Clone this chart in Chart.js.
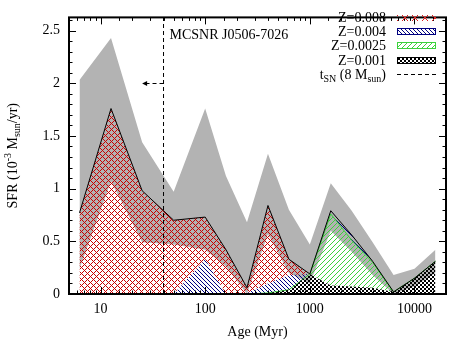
<!DOCTYPE html>
<html><head><meta charset="utf-8">
<script src="https://cdn.jsdelivr.net/npm/chart.js@4.4.1/dist/chart.umd.min.js"></script>
<style>html,body{margin:0;padding:0;background:#fff}canvas{display:block}</style>
</head><body>
<canvas id="c" width="453" height="340"></canvas>
<script>
// ---- data ----
const ageMyr    = [6.3, 12.6, 25, 50, 100, 158, 251, 398, 631, 1000, 1585, 2512, 3981, 6310, 10000, 15849];
const sfrZ0001  = [0, 0, 0, 0, 0, 0, 0, 0.01, 0.04, 0.19, 0.08, 0.07, 0.06, 0.02, 0.15, 0.31];
const sfrZ00025 = [0, 0, 0, 0, 0, 0, 0, 0, 0, 0, 0.68, 0.44, 0.24, 0, 0, 0];
const sfrZ0004  = [0, 0, 0, 0, 0.33, 0, 0.01, 0.09, 0.14, 0, 0.03, 0.05, 0.01, 0, 0, 0];
const sfrZ0008  = [0.77, 1.76, 0.98, 0.70, 0.40, 0.42, 0.05, 0.74, 0.15, 0, 0, 0, 0, 0, 0, 0];
const sfrUpper  = [2.03, 2.43, 1.44, 0.97, 1.76, 1.12, 0.68, 1.33, 0.80, 0.47, 1.05, 0.79, 0.49, 0.18, 0.24, 0.42];
const sfrLower  = [0.24, 1.07, 0.49, 0.47, 0.42, 0.26, 0.0, 0.57, 0.20, 0.10, 0.60, 0.40, 0.18, 0.0, 0.07, 0.20];
const tSNMyr = 40;
const arrowFromMyr = 40, arrowToMyr = 25, arrowSFR = 2;
const xMajorTicks = [10, 100, 1000, 10000];
const legendLabels = ['Z=0.008', 'Z=0.004', 'Z=0.0025', 'Z=0.001'];
const remnantName = 'MCSNR J0506-7026';

// ---- cumulative stack built from the arrays ----
const cum1 = sfrZ0001.map(v => v);
const cum2 = cum1.map((v, i) => v + sfrZ00025[i]);
const cum3 = cum2.map((v, i) => v + sfrZ0004[i]);
const cum4 = cum3.map((v, i) => v + sfrZ0008[i]);

const canvas = document.getElementById('c');
const mctx = canvas.getContext('2d');
function makePattern(w, h, fn, color) {
  const c = document.createElement('canvas'); c.width = w; c.height = h;
  const g = c.getContext('2d'); g.fillStyle = color;
  for (let y = 0; y < h; y++) for (let x = 0; x < w; x++) if (fn(x, y)) g.fillRect(x, y, 1, 1);
  return mctx.createPattern(c, 'repeat');
}
const RED = '#c80000', BLUE = '#000080', GREEN = '#3cd23c', GRAY = '#b3b3b3';
const patRed   = makePattern(6, 6, (x, y) => x === y || (x + y) % 6 === 0, RED);
const patRedLg = makePattern(10, 7, (x, y) => x >= 2 && x <= 7 && y >= 1 && y <= 6 && ((x - 2) === (y - 1) || (x - 2) + (y - 1) === 5), '#e02020');
const patBlue  = makePattern(4, 4, (x, y) => x === y, BLUE);
const patGreen = makePattern(5, 5, (x, y) => x + y === 4, GREEN);
const patBlack = makePattern(4, 4, (x, y) => (((x >> 1) + (y >> 1)) % 2) === 0, '#000');

const isPow10 = v => Math.abs(Math.log10(v) - Math.round(Math.log10(v))) < 1e-6;
const isHalf = v => Math.abs(v * 2 - Math.round(v * 2)) < 1e-6;
const FONT = 'Liberation Serif';

function richWidth(ctx, parts) {
  let w = 0;
  for (const p of parts) { ctx.font = p.s + 'px "' + FONT + '"'; w += ctx.measureText(p.t).width; }
  return w;
}
function drawRich(ctx, parts, x, y) {
  let cx = x;
  for (const p of parts) {
    ctx.font = p.s + 'px "' + FONT + '"';
    ctx.fillText(p.t, cx, y + (p.dy || 0));
    cx += ctx.measureText(p.t).width;
  }
}

const decorPlugin = {
  id: 'decor',
  afterDraw(chart) {
    const ctx = chart.ctx, a = chart.chartArea, xs = chart.scales.x, ys = chart.scales.y;
    ctx.save();
    // arrow (dashed, head at arrowToMyr)
    const ax0 = xs.getPixelForValue(arrowFromMyr), ax1 = xs.getPixelForValue(arrowToMyr);
    const ay = Math.round(ys.getPixelForValue(arrowSFR)) + 0.5;
    ctx.strokeStyle = '#000'; ctx.lineWidth = 1; ctx.setLineDash([4, 3]);
    ctx.beginPath(); ctx.moveTo(ax0, ay); ctx.lineTo(ax1 + 4, ay); ctx.stroke();
    ctx.setLineDash([]);
    ctx.fillStyle = '#000';
    ctx.beginPath(); ctx.moveTo(ax1, ay); ctx.lineTo(ax1 + 5, ay - 2.5); ctx.lineTo(ax1 + 5, ay + 2.5); ctx.closePath(); ctx.fill();

    // tick marks (inward, mirrored)
    ctx.lineWidth = 1; ctx.strokeStyle = '#000';
    ys.ticks.forEach(t => {
      const py = Math.round(ys.getPixelForValue(t.value)) + 0.5;
      const L = isHalf(t.value) ? 7 : 3.5;
      ctx.beginPath(); ctx.moveTo(a.left, py); ctx.lineTo(a.left + L, py);
      ctx.moveTo(a.right - L, py); ctx.lineTo(a.right, py); ctx.stroke();
    });
    xs.ticks.forEach(t => {
      if (t.value <= xs.min || t.value >= xs.max) return;
      const px = Math.round(xs.getPixelForValue(t.value)) + 0.5;
      const L = isPow10(t.value) ? 7 : 3.5;
      ctx.beginPath(); ctx.moveTo(px, a.bottom); ctx.lineTo(px, a.bottom - L);
      ctx.moveTo(px, a.top); ctx.lineTo(px, a.top + L); ctx.stroke();
    });
    // frame
    ctx.lineWidth = 2;
    ctx.strokeRect(a.left, a.top, a.right - a.left, a.bottom - a.top);

    // texts
    ctx.fillStyle = '#000'; ctx.textBaseline = 'alphabetic';
    ctx.font = '14px "' + FONT + '"';
    ctx.textAlign = 'left';
    ctx.fillText(remnantName, xs.getPixelForValue(tSNMyr) + 6, 39);
    // x title
    ctx.textAlign = 'center';
    ctx.fillText('Age (Myr)', (a.left + a.right) / 2, 336);
    ctx.textAlign = 'left';
    // y title (rotated)
    const yParts = [{t: 'SFR (10', s: 14}, {t: '-3', s: 10, dy: -6}, {t: ' M', s: 14}, {t: 'sun', s: 10, dy: 3}, {t: '/yr)', s: 14}];
    const yw = richWidth(ctx, yParts);
    ctx.save();
    ctx.translate(17, (a.top + a.bottom) / 2);
    ctx.rotate(-Math.PI / 2);
    drawRich(ctx, yParts, -yw / 2, 0);
    ctx.restore();

    // legend
    const txtRight = 386, sx0 = 397, sx1 = 436;
    const pats = [patRedLg, patBlue, patGreen, patBlack];
    const cols = [RED, BLUE, GREEN, '#000'];
    for (let i = 0; i < 5; i++) {
      const base = 22 + 14.2 * i;
      const mid = Math.round(base - 5);
      if (i < 4) {
        ctx.font = '14px "' + FONT + '"';
        ctx.textAlign = 'right';
        ctx.fillText(legendLabels[i], txtRight, base);
        ctx.textAlign = 'left';
        ctx.fillStyle = pats[i];
        ctx.fillRect(sx0, mid - 3, sx1 - sx0, 7);
        ctx.strokeStyle = cols[i]; ctx.lineWidth = 1;
        if (i > 0) ctx.strokeRect(sx0 + 0.5, mid - 3 + 0.5, sx1 - sx0 - 1, 6);
        ctx.fillStyle = '#000';
      } else {
        const parts = [{t: 't', s: 14}, {t: 'SN', s: 10, dy: 3}, {t: ' (8 M', s: 14}, {t: 'sun', s: 10, dy: 3}, {t: ')', s: 14}];
        const w = richWidth(ctx, parts);
        drawRich(ctx, parts, txtRight - w, base);
        ctx.strokeStyle = '#000'; ctx.lineWidth = 1; ctx.setLineDash([4, 3]);
        ctx.beginPath(); ctx.moveTo(sx0, mid + 0.5); ctx.lineTo(sx1, mid + 0.5); ctx.stroke();
        ctx.setLineDash([]);
      }
    }
    ctx.restore();
  }
};

new Chart(mctx, {
  type: 'line',
  data: {
    labels: ageMyr,
    datasets: [
      {label: 'upper', data: sfrUpper, fill: 1, backgroundColor: GRAY, borderWidth: 0, order: 10},
      {label: 'lower', data: sfrLower, fill: false, borderWidth: 0, order: 10},
      {label: 'Z=0.001', data: cum1, fill: 'origin', backgroundColor: patBlack, borderWidth: 0, order: 5},
      {label: 'Z=0.0025', data: cum2, fill: 2, backgroundColor: patGreen, borderColor: GREEN, borderWidth: 1, order: 5},
      {label: 'Z=0.004', data: cum3, fill: 3, backgroundColor: patBlue, borderWidth: 0, order: 5},
      {label: 'Z=0.008', data: cum4, fill: 4, backgroundColor: patRed, borderColor: '#000', borderWidth: 1, order: 2},
      {label: 'tSN', data: [{x: tSNMyr, y: 0}, {x: tSNMyr, y: 2.625}], fill: false, borderColor: '#000', borderWidth: 1, borderDash: [4, 3], order: 0}
    ]
  },
  options: {
    responsive: false, animation: false, devicePixelRatio: 1,
    layout: {padding: {top: 7, right: 1, left: 0, bottom: 0}},
    plugins: {legend: {display: false}, tooltip: {enabled: false}},
    elements: {line: {tension: 0}, point: {radius: 0}},
    scales: {
      x: {
        type: 'logarithmic', min: 5, max: 20000,
        grid: {display: false, drawTicks: false}, border: {display: false},
        ticks: {autoSkip: false, maxRotation: 0, minRotation: 0, padding: 7, color: '#000',
          font: {family: FONT, size: 14},
          callback: v => (xMajorTicks.includes(Math.round(v)) && isPow10(v)) ? String(Math.round(v)) : ''},
        afterFit: s => { s.height = 46; }
      },
      y: {
        type: 'linear', min: 0, max: 2.625,
        grid: {display: false, drawTicks: false}, border: {display: false},
        ticks: {stepSize: 0.1, maxTicksLimit: 100, includeBounds: false, autoSkip: false, padding: 9, color: '#000',
          font: {family: FONT, size: 14},
          callback: v => isHalf(v) ? String(Math.round(v * 10) / 10) : ''},
        afterFit: s => { s.width = 69; }
      }
    }
  },
  plugins: [decorPlugin]
});
</script>
</body></html>
